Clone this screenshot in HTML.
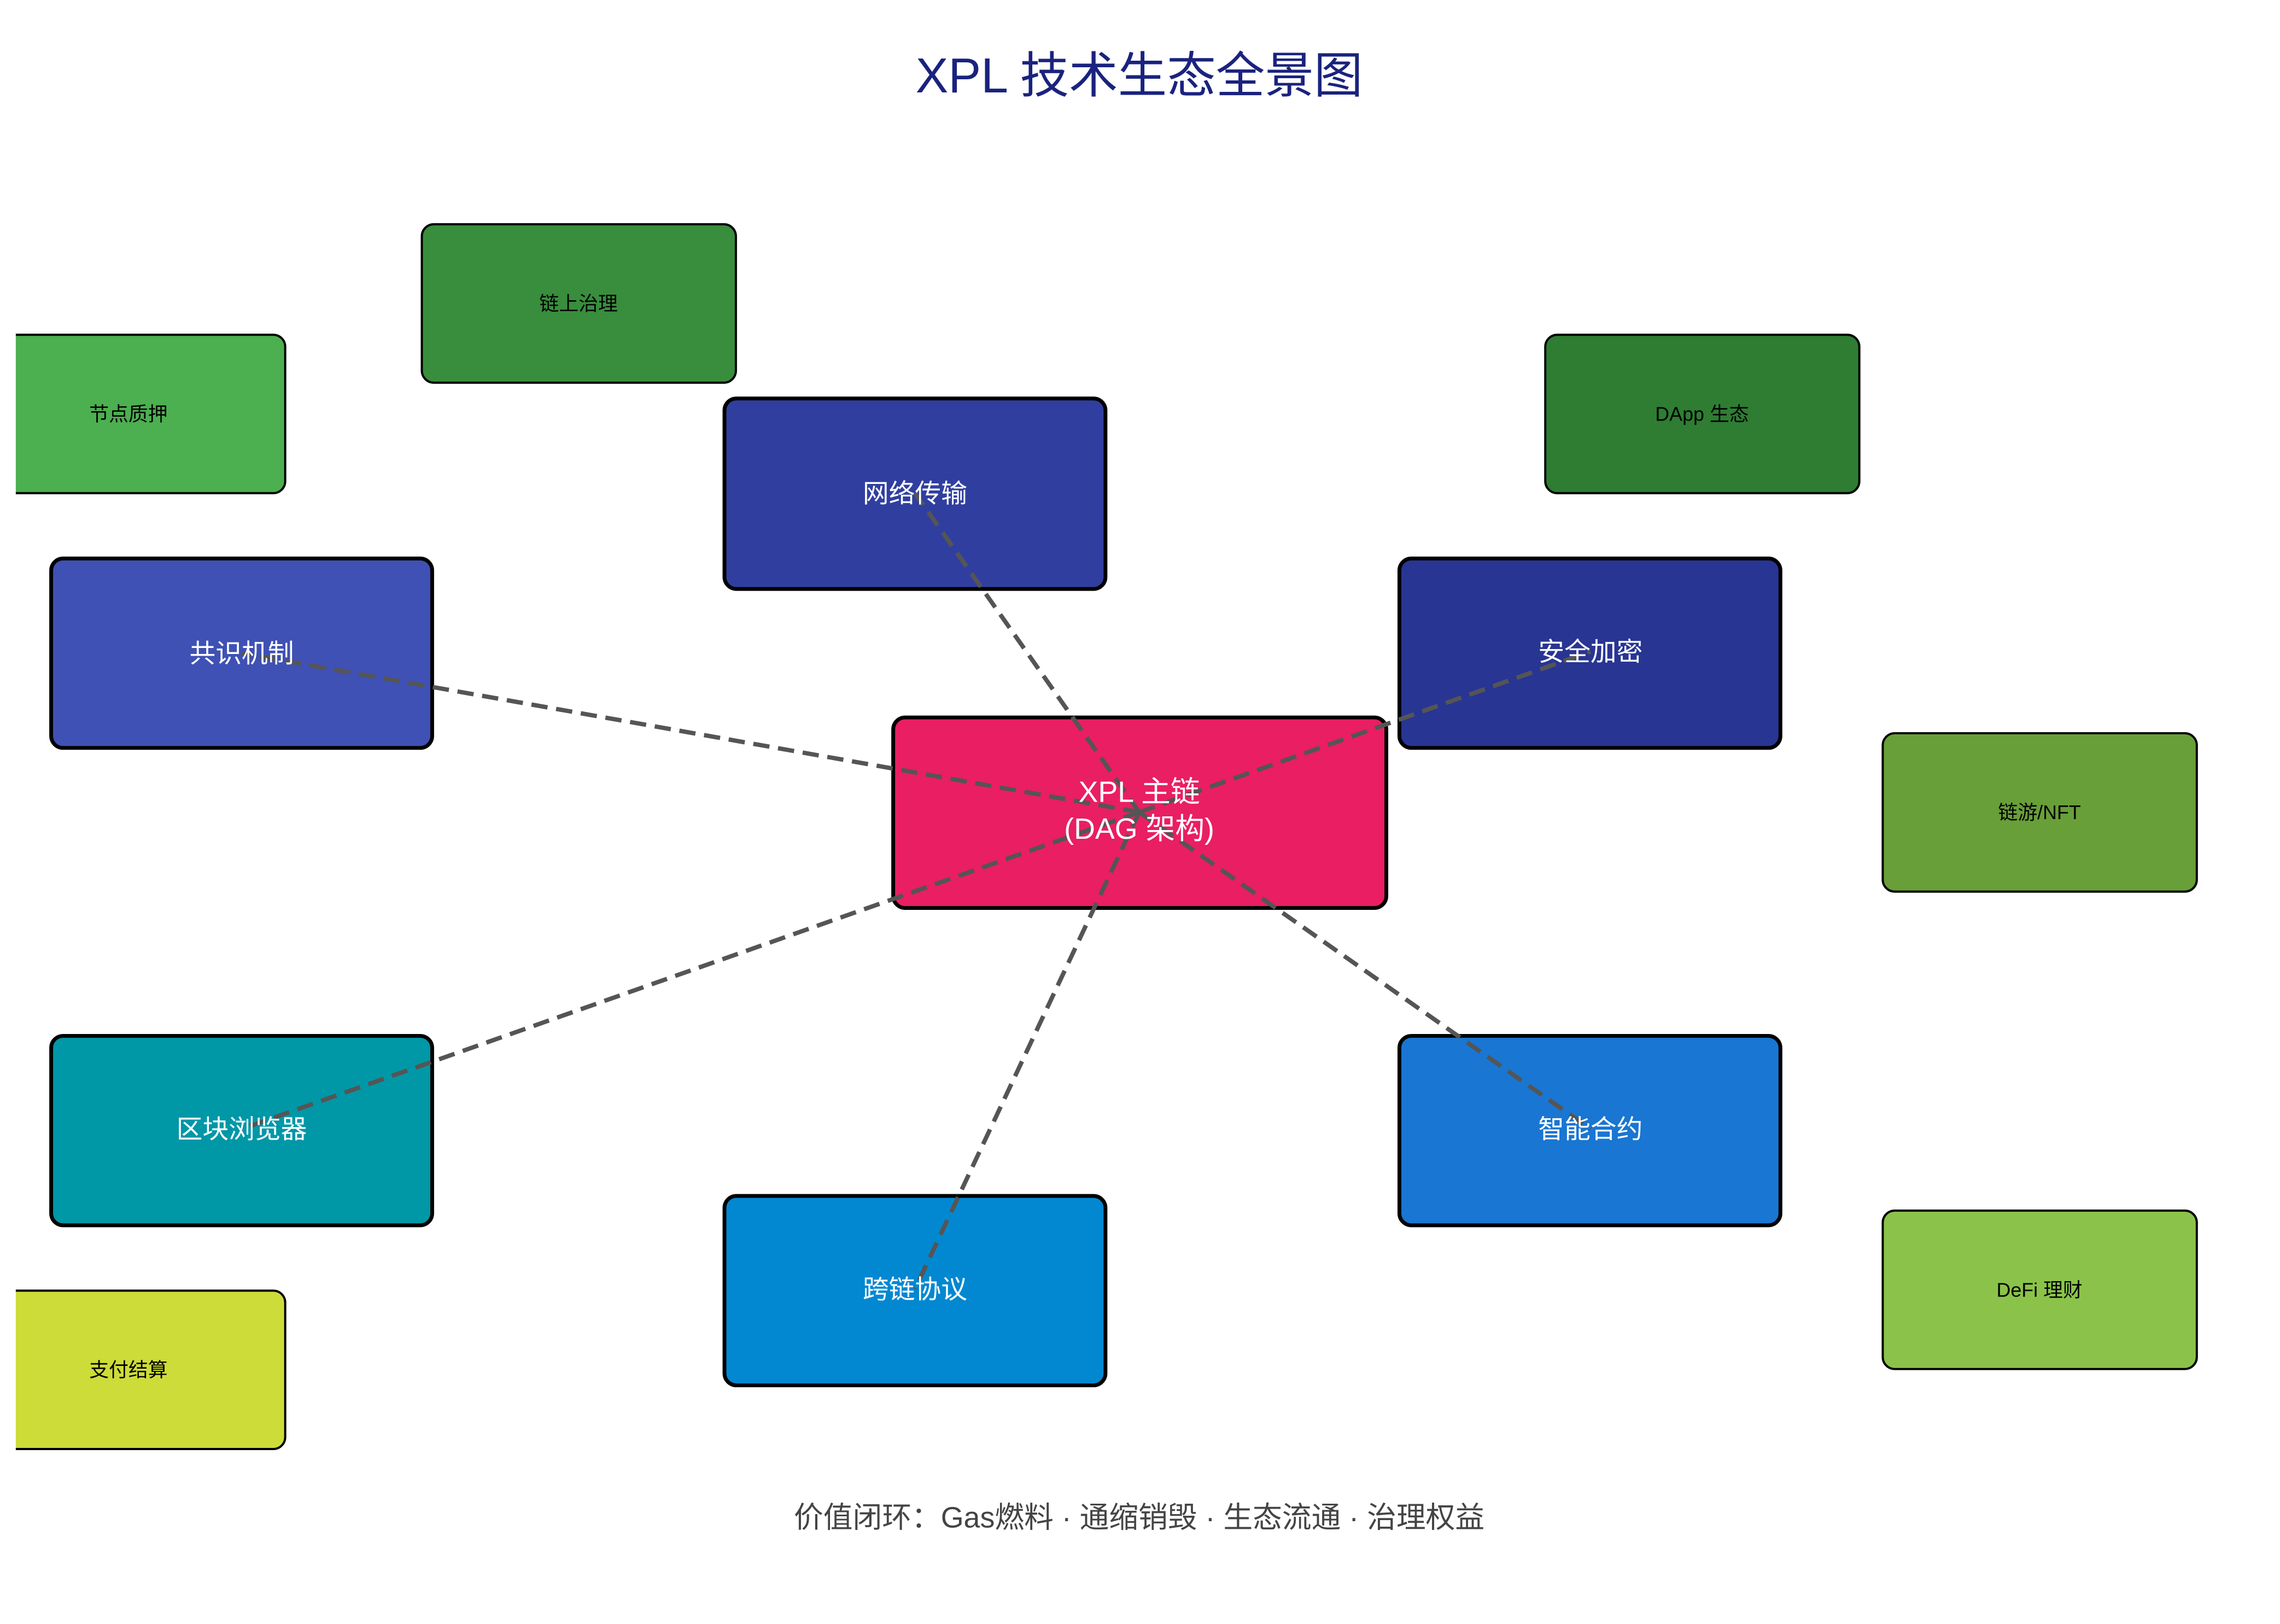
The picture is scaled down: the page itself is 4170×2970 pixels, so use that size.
<!DOCTYPE html>
<html><head><meta charset="utf-8"><style>
html,body{margin:0;padding:0;background:#fff;}
svg{display:block;}
text{font-family:"Liberation Sans","Noto Sans CJK SC",sans-serif;}
</style></head><body>
<svg width="4170" height="2970" viewBox="0 0 4170 2970" xmlns="http://www.w3.org/2000/svg">
<rect width="4170" height="2970" fill="#fff"/>
<g transform="scale(0.9955)">
<text x="2093" y="170" font-size="90" fill="#1a237e" text-anchor="middle">XPL 技术生态全景图</text>

<g stroke="#000" stroke-width="4">
<rect x="775" y="412" width="577" height="291" rx="22" fill="#388E3C"/>
<rect x="-53" y="615" width="577" height="291" rx="22" fill="#4CAF50"/>
<rect x="2839" y="615" width="577" height="291" rx="22" fill="#2E7D32"/>
<rect x="3459" y="1347" width="577" height="291" rx="22" fill="#689F38"/>
<rect x="3459" y="2224" width="577" height="291" rx="22" fill="#8BC34A"/>
<rect x="-53" y="2371" width="577" height="291" rx="22" fill="#CDDC39"/>
</g>
<rect x="0" y="0" width="29" height="2990" fill="#fff"/>
<g font-size="36" fill="#000" text-anchor="middle">
<text x="1063" y="570">链上治理</text>
<text x="236" y="773">节点质押</text>
<text x="3127" y="773">DApp 生态</text>
<text x="3747" y="1505">链游/NFT</text>
<text x="3747" y="2382">DeFi 理财</text>
<text x="236" y="2529">支付结算</text>
</g>

<g stroke="#000" stroke-width="7">
<rect x="94" y="1026" width="700" height="348" rx="22" fill="#3F51B5"/>
<rect x="1331" y="732" width="700" height="350" rx="22" fill="#303F9F"/>
<rect x="2571" y="1026" width="700" height="348" rx="22" fill="#283593"/>
<rect x="94" y="1903" width="700" height="348" rx="22" fill="#0097A7"/>
<rect x="1331" y="2197" width="700" height="348" rx="22" fill="#0288D1"/>
<rect x="2571" y="1903" width="700" height="348" rx="22" fill="#1976D2"/>
<rect x="1641" y="1318" width="906" height="350" rx="22" fill="#E91E63"/>
</g>

<g stroke="#555" stroke-width="8" stroke-dasharray="30,16" fill="none">
<line x1="2093" y1="1492" x2="444" y2="1200"/>
<line x1="2093" y1="1492" x2="1681" y2="906"/>
<line x1="2093" y1="1492" x2="2922" y2="1197"/>
<line x1="2093" y1="1492" x2="444" y2="2074"/>
<line x1="2093" y1="1492" x2="1681" y2="2368"/>
<line x1="2093" y1="1492" x2="2922" y2="2074"/>
</g>

<g font-size="48" fill="#fff" text-anchor="middle">
<text x="444" y="1217">共识机制</text>
<text x="1681" y="923">网络传输</text>
<text x="2922" y="1214">安全加密</text>
<text x="444" y="2091">区块浏览器</text>
<text x="1681" y="2385">跨链协议</text>
<text x="2922" y="2091">智能合约</text>
<text x="2093" y="1473" font-size="54">XPL 主链</text>
<text x="2093" y="1541" font-size="54">(DAG 架构)</text>
</g>

<text x="2093" y="2806" font-size="54" fill="#444" text-anchor="middle">价值闭环：Gas燃料 · 通缩销毁 · 生态流通 · 治理权益</text>
</g>
</svg>
</body></html>
